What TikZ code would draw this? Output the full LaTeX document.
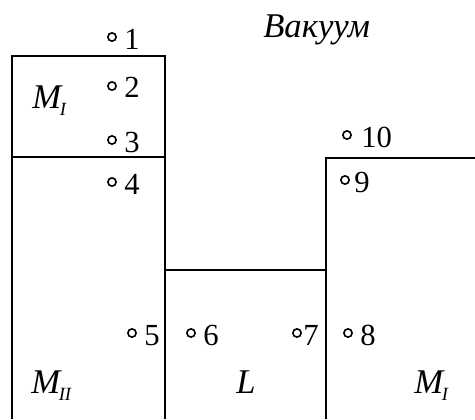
\documentclass[tikz,border=0pt]{standalone}
\usepackage{fontspec}
\setmainfont{Liberation Serif}
\newcommand\phsub[1]{\kern-0.04em\raisebox{-5.3pt}{\fontsize{14pt}{16pt}\selectfont #1}}
\begin{document}
\begin{tikzpicture}[x=0.75pt,y=-0.75pt,
  wall/.style={line width=1.9pt},
  pt/.style={circle,draw,line width=1.2pt,inner sep=0pt,minimum size=6.2pt},
  dig/.style={anchor=base west,inner sep=0pt,font=\fontsize{23pt}{25pt}\selectfont},
  phase/.style={anchor=base west,inner sep=0pt,font=\fontsize{26pt}{30pt}\selectfont\itshape},
]
\useasboundingbox (0,0) rectangle (475,419);
% walls
\coordinate (lb) at (12,419);
\coordinate (lt) at (12,56);
\coordinate (rt) at (165,56);
\coordinate (rb) at (165,419);
\coordinate (ml) at (12,157);
\coordinate (mr) at (165,157);
\coordinate (ll) at (165,270);
\coordinate (lr) at (326,270);
\coordinate (cb) at (326,419);
\coordinate (ct) at (326,158);
\coordinate (ce) at (475,158);
\draw[wall] (lb) -- (lt) -- (rt) -- (rb);
\draw[wall] (ml) -- (mr);
\draw[wall] (ll) -- (lr);
\draw[wall] (cb) -- (ct) -- (ce);
% points
\node[pt] (p1) at (112,37) {};
\node[pt] (p2) at (112,86) {};
\node[pt] (p3) at (112,140) {};
\node[pt] (p4) at (112,182) {};
\node[pt] (p5) at (132,333) {};
\node[pt] (p6) at (191,333) {};
\node[pt] (p7) at (297,333) {};
\node[pt] (p8) at (348,333) {};
\node[pt] (p9) at (345,180) {};
\node[pt] (p10) at (347,135) {};
\path (p1) ++(12,12) node[dig] (n1) {1};
\path (p2) ++(12,11) node[dig] (n2) {2};
\path (p3) ++(12,12) node[dig] (n3) {3};
\path (p4) ++(12,12) node[dig] (n4) {4};
\path (p5) ++(12,12) node[dig] (n5) {5};
\path (p6) ++(12,12) node[dig] (n6) {6};
\path (p7) ++(6,12) node[dig] (n7) {7};
\path (p8) ++(12,12) node[dig] (n8) {8};
\path (p9) ++(9,12) node[dig] (n9) {9};
\path (p10) ++(14,12) node[dig] (n10) {10};
% phases
\node[phase] (m1) at (32,108) {M\phsub{I}};
\node[phase] (m2) at (31,393) {M\phsub{II}};
\node[phase] (l) at (236,393) {L};
\node[phase] (m3) at (414,393) {M\phsub{I}};
\node[anchor=base west,inner sep=0pt,font=\fontsize{26pt}{30pt}\selectfont\itshape] (vac) at (263,37) {Вакуум};
\end{tikzpicture}
\end{document}
